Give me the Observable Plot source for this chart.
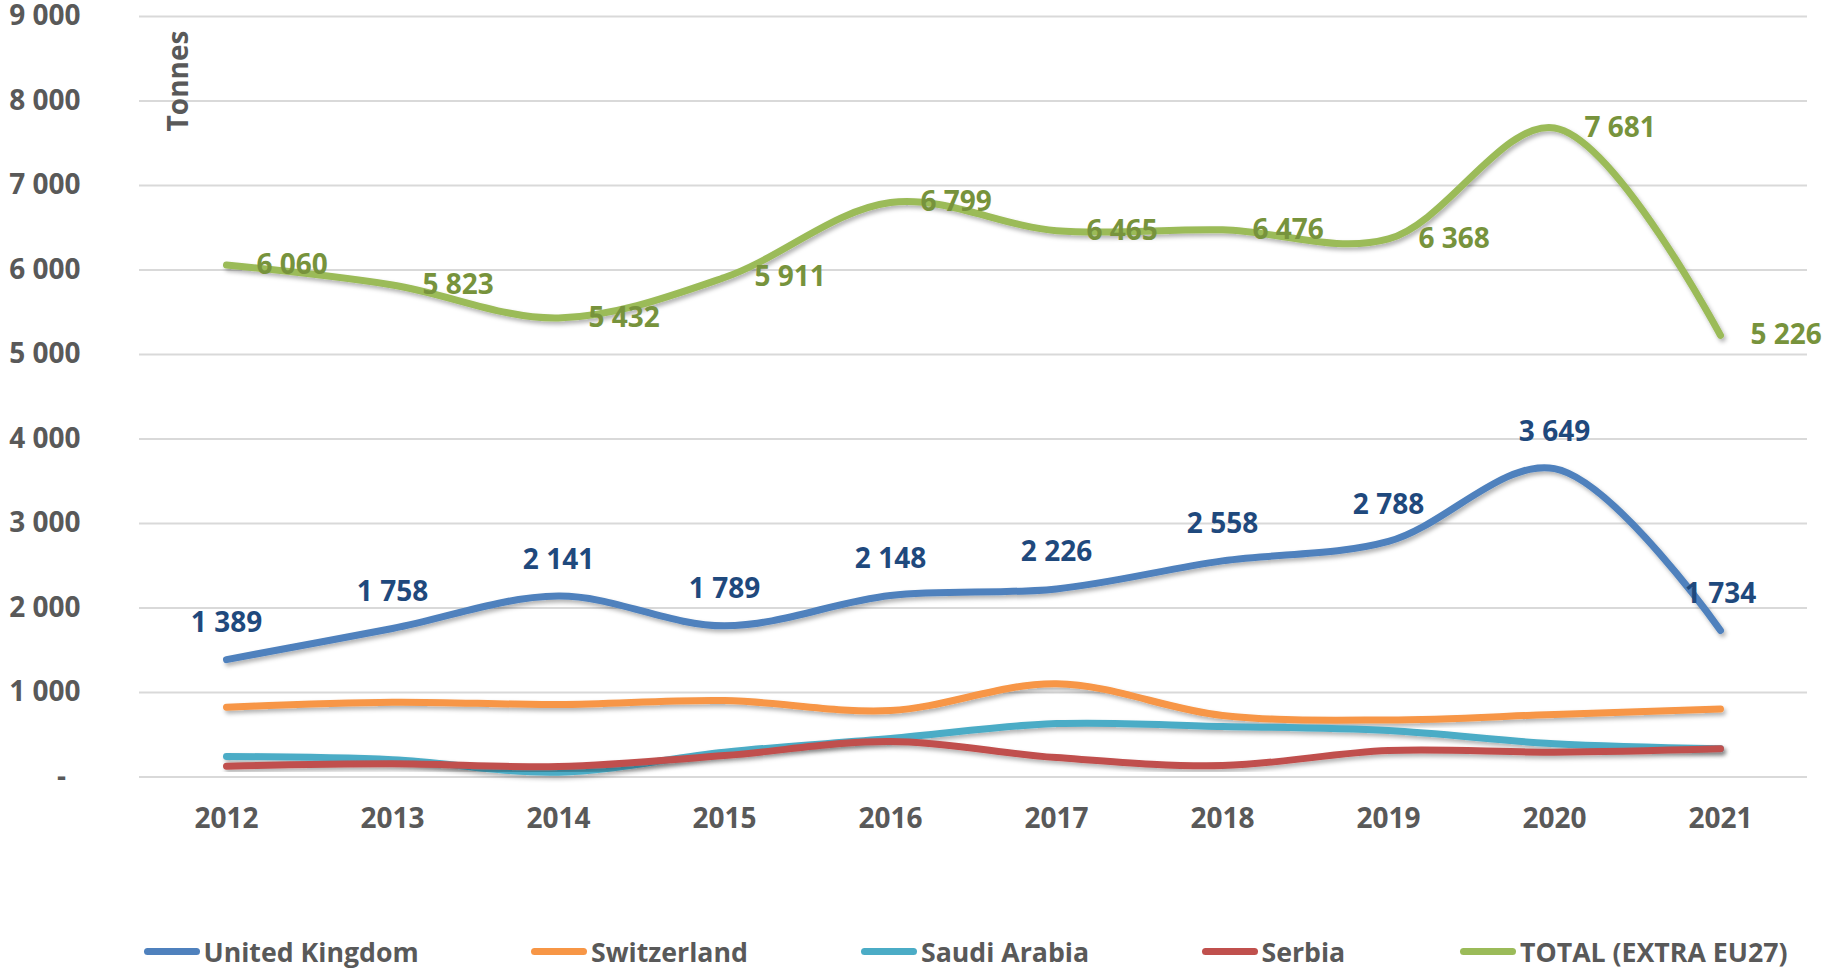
<!DOCTYPE html>
<html>
<head>
<meta charset="utf-8">
<script src="https://cdn.jsdelivr.net/npm/d3@7"></script>
<script src="https://cdn.jsdelivr.net/npm/@observablehq/plot@0.6"></script>
<style>
  html, body { margin: 0; padding: 0; background: #fff; }
  #wrap { position: relative; width: 1829px; height: 971px; font-family: "Open Sans", sans-serif; }
  #chart svg { overflow: visible; }
  #legend { position: absolute; left: 0; top: 931px; width: 1829px; height: 40px;
            font-family: "Open Sans", sans-serif; font-weight: 700; font-size: 26.7px; color: #595959; white-space: nowrap; }
  .item { position: absolute; top: 0; height: 40px; display: flex; align-items: center; }
  .sw { width: 56px; height: 7px; border-radius: 4px; margin-right: 4px; }
</style>
</head>
<body>
<div id="wrap"><div id="chart"></div><div id="legend"></div></div>
<script>
const years = [2012, 2013, 2014, 2015, 2016, 2017, 2018, 2019, 2020, 2021];
const seriesNames = ["United Kingdom", "Switzerland", "Saudi Arabia", "Serbia", "TOTAL (EXTRA EU27)"];
const seriesColors = ["#4F81BD", "#F79646", "#4BACC6", "#C0504D", "#9BBB59"];
const unitedKingdom = [1389, 1758, 2141, 1789, 2148, 2226, 2558, 2788, 3649, 1734];
const switzerland = [826, 885, 858, 905, 787, 1103, 728, 675, 740, 805];
const saudiArabia = [243, 205, 57, 294, 455, 632, 598, 550, 393, 334];
const serbia = [128, 156, 124, 254, 420, 230, 136, 314, 294, 334];
const totalExtraEU27 = [6060, 5823, 5432, 5911, 6799, 6465, 6476, 6368, 7681, 5226];
const yTicks = [0, 1000, 2000, 3000, 4000, 5000, 6000, 7000, 8000, 9000];
const yLabel = "Tonnes";

const seriesValues = [unitedKingdom, switzerland, saudiArabia, serbia, totalExtraEU27];
const rows = seriesNames.flatMap((name, i) => years.map((year, j) => ({series: name, year, value: seriesValues[i][j]})));
const ukRows = rows.filter(d => d.series === seriesNames[0]);
const totalRows = rows.filter(d => d.series === seriesNames[4]);

const fmt = v => v === 0 ? "-\u00a0\u00a0" : d3.format(",")(v).replace(/,/g, "\u00a0");

const W = 1829, H = 900;
const plot = Plot.plot({
  width: W,
  height: H,
  marginTop: 16,
  marginBottom: 123.5,
  marginLeft: 139,
  marginRight: 22,
  style: {fontFamily: "Open Sans, sans-serif", fontSize: "28px", fontWeight: 700, color: "#595959", background: "#fff", overflow: "visible"},
  x: {type: "point", domain: years, padding: 0.5, label: null},
  y: {domain: [0, 9000], label: null},
  color: {domain: seriesNames, range: seriesColors},
  marks: [
    Plot.ruleY(yTicks, {stroke: "#D9D9D9", strokeWidth: 2}),
    Plot.axisY(yTicks, {tickSize: 0, tickPadding: 59, tickFormat: fmt, label: null, fontSize: 28, fontWeight: 700}),
    Plot.axisX(years, {tickSize: 0, tickPadding: 31, tickFormat: d => String(d), label: null, fontSize: 28, fontWeight: 700}),
    Plot.line(rows, {x: "year", y: "value", z: "series", stroke: "series", strokeWidth: 7, curve: "catmull-rom", strokeLinecap: "round", strokeLinejoin: "round"}),
    Plot.text(ukRows, {x: "year", y: "value", text: d => fmt(d.value), dy: -36.5, fill: "#1F497D", fontSize: 28, fontWeight: 700}),
    Plot.text(totalRows, {x: "year", y: "value", text: d => fmt(d.value), dx: 30, textAnchor: "start", fill: "#77933C", fontSize: 28, fontWeight: 700}),
    Plot.text([yLabel], {frameAnchor: "top-left", dx: 40, dy: 64.5, rotate: -90, textAnchor: "middle", lineAnchor: "middle", fill: "#595959", fontSize: 28, fontWeight: 700})
  ]
});

// drop shadow for lines, as in the original
const svg = d3.select(plot);
const defs = svg.insert("defs", ":first-child");
defs.append("filter").attr("id", "sh").attr("x", "-10%").attr("y", "-10%").attr("width", "120%").attr("height", "130%")
  .append("feDropShadow").attr("dx", 2).attr("dy", 3).attr("stdDeviation", 2)
  .attr("flood-color", "#000").attr("flood-opacity", 0.3);
svg.selectAll("g[aria-label='line'] path").attr("filter", "url(#sh)");

document.getElementById("chart").appendChild(plot);

const legendLefts = [143.5, 531, 861, 1201.5, 1460];
const legend = d3.select("#legend");
seriesNames.forEach((name, i) => {
  const it = legend.append("div").attr("class", "item").style("left", legendLefts[i] + "px");
  it.append("div").attr("class", "sw").style("background", seriesColors[i]);
  it.append("span").text(name);
});
</script>
</body>
</html>
